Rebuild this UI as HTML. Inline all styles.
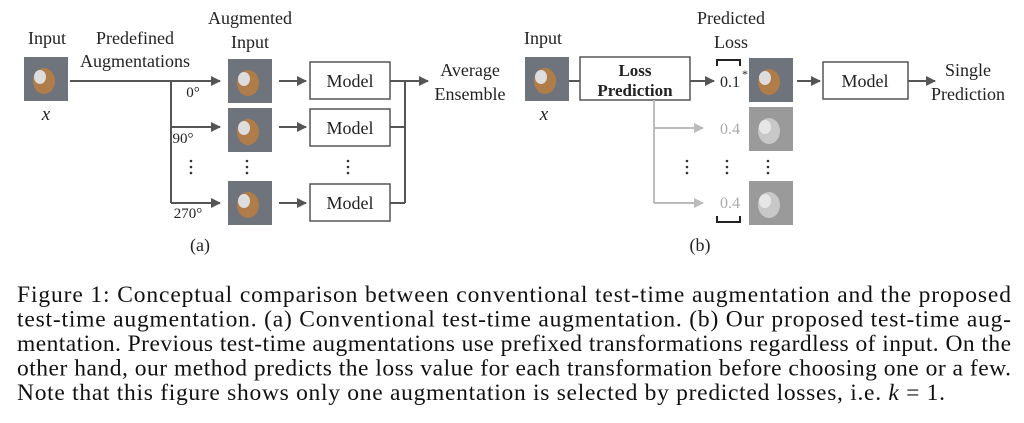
<!DOCTYPE html>
<html><head><meta charset="utf-8"><style>
html,body{margin:0;padding:0;background:#fff;}
svg{display:block;}
text{font-family:"Liberation Serif",serif;}
</style></head><body>
<svg width="1024" height="423" viewBox="0 0 1024 423" xmlns="http://www.w3.org/2000/svg">
<defs>
<marker id="ah" viewBox="0 0 10 10" refX="9" refY="5" markerWidth="12" markerHeight="10" orient="auto" markerUnits="userSpaceOnUse"><path d="M0,0 L10,5 L0,10 z" fill="#555"/></marker>
<marker id="ahg" viewBox="0 0 10 10" refX="9" refY="5" markerWidth="12" markerHeight="10" orient="auto" markerUnits="userSpaceOnUse"><path d="M0,0 L10,5 L0,10 z" fill="#bbb"/></marker>
<g id="dog"><rect width="44" height="44" fill="#6e737c"/><ellipse cx="20" cy="24" rx="11" ry="13" fill="#b07c4a"/><ellipse cx="16" cy="20" rx="6" ry="7" fill="#ddd"/></g>
<g id="gdog"><rect width="44" height="44" fill="#9a9a9a"/><ellipse cx="20" cy="24" rx="11" ry="13" fill="#c8c8c8"/><ellipse cx="16" cy="20" rx="6" ry="7" fill="#e6e6e6"/></g>
</defs>
<style>.a{stroke:#555;stroke-width:2;fill:none}.g{stroke:#bbb;stroke-width:2;fill:none}.bx{fill:#fff;stroke:#555;stroke-width:1.5}</style>
<g font-size="18" fill="#222" text-anchor="middle">
<text x="47" y="44">Input</text>
<text x="135" y="44">Predefined</text>
<text x="135" y="67">Augmentations</text>
<text x="250" y="24">Augmented</text>
<text x="250" y="48">Input</text>
<text x="470" y="76">Average</text>
<text x="470" y="100">Ensemble</text>
<text x="46" y="120" font-style="italic" font-size="19">x</text>
<text x="193" y="97" font-size="15">0°</text>
<text x="183" y="143" font-size="15">90°</text>
<text x="188" y="218" font-size="15">270°</text>
<text x="200" y="251">(a)</text>
</g>
<use href="#dog" x="24" y="57"/>
<use href="#dog" x="228" y="59"/>
<use href="#dog" x="228" y="108"/>
<use href="#dog" x="228" y="181"/>
<path class="a" d="M70,81 H220" marker-end="url(#ah)"/>
<path class="a" d="M171,81 V203"/>
<path class="a" d="M171,127 H220" marker-end="url(#ah)"/>
<path class="a" d="M171,203 H220" marker-end="url(#ah)"/>
<path class="a" d="M279,81 H306" marker-end="url(#ah)"/>
<path class="a" d="M279,127 H306" marker-end="url(#ah)"/>
<path class="a" d="M279,203 H306" marker-end="url(#ah)"/>
<rect class="bx" x="310" y="62" width="80" height="37"/>
<rect class="bx" x="310" y="109" width="80" height="37"/>
<rect class="bx" x="310" y="184" width="80" height="37"/>
<g font-size="18" text-anchor="middle" fill="#222">
<text x="350" y="87">Model</text>
<text x="350" y="134">Model</text>
<text x="350" y="209">Model</text>
</g>
<path class="a" d="M390,81 H405 M390,127 H405 M390,203 H405 M405,81 V203"/>
<path class="a" d="M405,81 H428" marker-end="url(#ah)"/>
<g fill="#333"><circle cx="191" cy="161" r="1.3"/><circle cx="191" cy="167" r="1.3"/><circle cx="191" cy="173" r="1.3"/>
<circle cx="247" cy="161" r="1.3"/><circle cx="247" cy="167" r="1.3"/><circle cx="247" cy="173" r="1.3"/>
<circle cx="348" cy="161" r="1.3"/><circle cx="348" cy="167" r="1.3"/><circle cx="348" cy="173" r="1.3"/>
<circle cx="687" cy="161" r="1.3"/><circle cx="687" cy="167" r="1.3"/><circle cx="687" cy="173" r="1.3"/>
<circle cx="727" cy="161" r="1.3"/><circle cx="727" cy="167" r="1.3"/><circle cx="727" cy="173" r="1.3"/>
<circle cx="768" cy="161" r="1.3"/><circle cx="768" cy="167" r="1.3"/><circle cx="768" cy="173" r="1.3"/></g>
<use href="#dog" x="525" y="57"/>
<use href="#dog" x="749" y="58"/>
<use href="#gdog" x="749" y="107"/>
<use href="#gdog" x="749" y="181"/>
<path class="a" d="M569,81 H580"/>
<rect class="bx" x="580" y="57" width="110" height="43"/>
<text x="635" y="76" font-size="17" font-weight="bold" text-anchor="middle" fill="#222">Loss</text>
<text x="635" y="96" font-size="17" font-weight="bold" text-anchor="middle" fill="#222">Prediction</text>
<path class="a" d="M690,81 H714" marker-end="url(#ah)"/>
<path class="g" d="M654,100 V203"/>
<path class="g" d="M654,128 H703" marker-end="url(#ahg)"/>
<path class="g" d="M654,203 H703" marker-end="url(#ahg)"/>
<path d="M717,66 V60 H740 V66" stroke="#222" stroke-width="2" fill="none"/>
<path d="M717,216 V222 H740 V216" stroke="#222" stroke-width="2" fill="none"/>
<path class="a" d="M797,81 H820" marker-end="url(#ah)"/>
<rect class="bx" x="823" y="62" width="85" height="37"/>
<path class="a" d="M908,81 H935" marker-end="url(#ah)"/>
<g font-size="18" fill="#222" text-anchor="middle">
<text x="543" y="44">Input</text>
<text x="731" y="24">Predicted</text>
<text x="731" y="48">Loss</text>
<text x="544" y="120" font-style="italic" font-size="19">x</text>
<text x="865" y="87">Model</text>
<text x="968" y="76">Single</text>
<text x="968" y="100">Prediction</text>
<text x="700" y="251">(b)</text>
<text x="730" y="87" font-size="16">0.1</text>
<text x="745" y="78" font-size="12">*</text>
<text x="730" y="134" font-size="16" fill="#aaa">0.4</text>
<text x="730" y="208" font-size="16" fill="#aaa">0.4</text>
</g>
<g font-size="23.5" fill="#111">
<text x="17" y="302" textLength="994" lengthAdjust="spacing">Figure 1: Conceptual comparison between conventional test-time augmentation and the proposed</text>
<text x="17" y="326.5" textLength="994" lengthAdjust="spacing">test-time augmentation. (a) Conventional test-time augmentation. (b) Our proposed test-time aug-</text>
<text x="17" y="351" textLength="994" lengthAdjust="spacing">mentation. Previous test-time augmentations use prefixed transformations regardless of input. On the</text>
<text x="17" y="375.5" textLength="994" lengthAdjust="spacing">other hand, our method predicts the loss value for each transformation before choosing one or a few.</text>
<text x="17" y="400" textLength="928" lengthAdjust="spacing">Note that this figure shows only one augmentation is selected by predicted losses, i.e. <tspan font-style="italic">k</tspan> = 1.</text>
</g>
</svg>
</body></html>
